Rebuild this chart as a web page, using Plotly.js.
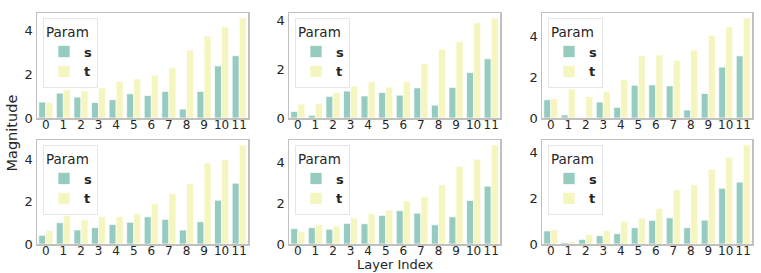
<!DOCTYPE html>
<html>
<head>
<meta charset="utf-8">
<script src="https://cdn.plot.ly/plotly-3.0.1.min.js"></script>
<style>html,body{margin:0;padding:0;background:#fff;}#chart{width:761px;height:273px;}</style>
</head>
<body>
<div id="chart"></div>
<script>
const layers = ["0","1","2","3","4","5","6","7","8","9","10","11"];
const seriesNames = ["s", "t"];
const legendTitle = "Param";
const xTitle = "Layer Index";
const yTitle = "Magnitude";

const p1_s = [0.73, 1.14, 0.96, 0.71, 0.84, 1.11, 1.03, 1.22, 0.41, 1.22, 2.39, 2.86];
const p1_t = [0.73, 1.29, 1.25, 1.38, 1.67, 1.79, 1.96, 2.30, 3.12, 3.76, 4.18, 4.59];
const p2_s = [0.27, 0.11, 0.89, 1.11, 0.91, 1.05, 0.94, 1.24, 0.53, 1.26, 1.87, 2.44];
const p2_t = [0.57, 0.59, 1.05, 1.31, 1.49, 1.28, 1.49, 2.24, 2.83, 3.14, 3.92, 4.12];
const p3_s = [0.89, 0.15, 0.02, 0.78, 0.52, 1.60, 1.62, 1.57, 0.39, 1.20, 2.49, 3.04];
const p3_t = [0.94, 1.41, 1.05, 1.28, 1.89, 3.04, 3.08, 2.80, 3.32, 4.05, 4.45, 4.89];
const p4_s = [0.41, 1.00, 0.66, 0.77, 0.92, 1.02, 1.28, 1.16, 0.66, 1.05, 2.06, 2.86];
const p4_t = [0.63, 1.33, 1.14, 1.28, 1.30, 1.42, 1.91, 2.38, 2.83, 3.81, 3.98, 4.66];
const p5_s = [0.75, 0.80, 0.72, 1.01, 0.99, 1.40, 1.63, 1.51, 0.94, 1.33, 2.13, 2.83];
const p5_t = [0.60, 0.94, 0.88, 1.27, 1.48, 1.66, 2.11, 2.31, 2.89, 3.80, 4.15, 4.85];
const p6_s = [0.57, 0.06, 0.20, 0.36, 0.45, 0.71, 1.03, 1.14, 0.71, 1.04, 2.43, 2.70];
const p6_t = [0.62, 0.10, 0.41, 0.58, 0.97, 1.13, 1.55, 2.36, 2.58, 3.26, 3.78, 4.32];

const panels = [[p1_s, p1_t], [p2_s, p2_t], [p3_s, p3_t], [p4_s, p4_t], [p5_s, p5_t], [p6_s, p6_t]];
const colors = ["#96cbbf", "#f5f5bf"];

const W = 761, H = 273;
const colPx = [[37, 248], [289, 500], [542, 752]];
const rowPx = [[13, 118], [140, 244]];
const font = "DejaVu Sans, sans-serif";

const data = [];
const layout = {
  width: W, height: H,
  margin: {l: 0, r: 0, t: 0, b: 0},
  paper_bgcolor: "#fff", plot_bgcolor: "#fff",
  barmode: "group", bargap: 0.2, bargroupgap: 0,
  font: {family: font, size: 13, color: "#262626"},
  annotations: [],
  showlegend: true
};

panels.forEach((pair, i) => {
  const r = Math.floor(i / 3), c = i % 3;
  const n = i + 1;
  const xa = n === 1 ? "x" : "x" + n;
  const ya = n === 1 ? "y" : "y" + n;
  const lg = n === 1 ? "legend" : "legend" + n;
  pair.forEach((vals, k) => {
    data.push({
      type: "bar", x: layers, y: vals, name: "<b>" + seriesNames[k] + "</b>",
      xaxis: xa, yaxis: ya, legend: lg,
      marker: {color: colors[k], line: {color: "#ffffff", width: 0.7}},
      hoverinfo: "skip"
    });
  });
  const ymax = Math.max(...pair[0], ...pair[1]) * 1.05;
  const xd = [colPx[c][0] / W, colPx[c][1] / W];
  const yd = [1 - rowPx[r][1] / H, 1 - rowPx[r][0] / H];
  layout[n === 1 ? "xaxis" : "xaxis" + n] = {
    domain: xd, anchor: ya, type: "category",
    showline: true, mirror: true, linecolor: "#c0c0c0", linewidth: 1.5,
    showgrid: false, zeroline: false, ticks: "", ticklabelstandoff: -5,
    tickangle: 0, automargin: false,
    tickfont: {size: 12, color: "#262626"}, fixedrange: true
  };
  layout[n === 1 ? "yaxis" : "yaxis" + n] = {
    domain: yd, anchor: xa, range: [0, ymax],
    showline: true, mirror: true, linecolor: "#c0c0c0", linewidth: 1.5,
    showgrid: false, zeroline: false, ticks: "", dtick: 2, tick0: 0,
    ticklabelstandoff: 0, automargin: false,
    tickfont: {size: 13, color: "#262626"}, fixedrange: true
  };
  layout[lg] = {
    x: (colPx[c][0] + 6) / W, y: 1 - (rowPx[r][0] + 5) / H,
    xanchor: "left", yanchor: "top",
    bgcolor: "rgba(255,255,255,0.8)", bordercolor: "#e6e6e6", borderwidth: 1,
    title: {text: legendTitle, font: {size: 13.5, color: "#262626"}},
    font: {size: 13, color: "#262626"},
    itemwidth: 30, tracegroupgap: 0
  };
});

layout.annotations.push({
  xref: "paper", yref: "paper", x: 394.5 / W, y: 0,
  text: xTitle, showarrow: false, font: {size: 13, color: "#262626"},
  xanchor: "center", yanchor: "bottom", borderpad: 0
});
layout.annotations.push({
  xref: "paper", yref: "paper", x: 11 / W, y: 1 - 133.5 / H,
  text: yTitle, textangle: -90, showarrow: false, font: {size: 14.5, color: "#262626"},
  xanchor: "center", yanchor: "middle"
});

Plotly.newPlot("chart", data, layout, {staticPlot: true, displayModeBar: false});
</script>
</body>
</html>
